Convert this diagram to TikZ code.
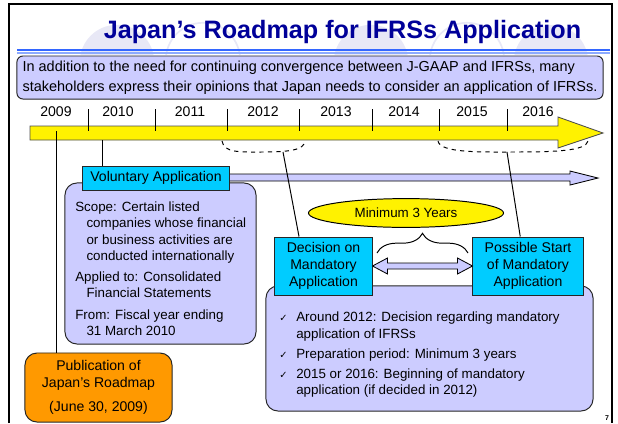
\documentclass[tikz,border=0pt]{standalone}
\usepackage{fontspec}
\setmainfont{Liberation Sans}
\newfontfamily\symfont{DejaVu Sans}
\usetikzlibrary{calc,shapes.geometric,decorations.pathreplacing}

\definecolor{navy}{RGB}{0,0,153}
\definecolor{lav}{RGB}{204,204,255}
\definecolor{skycyan}{RGB}{0,204,255}
\definecolor{amber}{RGB}{255,153,0}
\definecolor{ruleblue}{RGB}{51,102,255}
\definecolor{rulelight}{RGB}{140,170,255}
\definecolor{faint}{RGB}{232,232,246}

\begin{document}
\begin{tikzpicture}[x=0.025cm, y=-0.025cm,
    txt/.style={font=\fontsize{10}{12}\selectfont},
    small/.style={font=\fontsize{9.5}{11.4}\selectfont},
    cbox/.style={txt, draw=black!85, line width=0.7pt, fill=skycyan, align=center, inner sep=0pt},
    lbox/.style={draw=black!85, line width=0.7pt, fill=lav, rounded corners=0.3cm, inner sep=0pt},
    tick/.style={line width=0.6pt}]
  \useasboundingbox (0,0) rectangle (618,423);

  % faint circles behind the heading
  \begin{scope}
    \clip (11,6) rectangle (610,54);
    \foreach \cx in {117,371,551}
      \fill[faint] (\cx,62) circle (0.93cm);
    \foreach \cx in {203,467}
      \draw[faint, line width=1.2pt] (\cx,60) circle (0.93cm);
  \end{scope}

  \node[font=\fontsize{17.9}{21}\selectfont\bfseries, text=navy] (title) at (342.5,32) {Japan's Roadmap for IFRSs Application};
  \draw[ruleblue, line width=1.2pt] (17,50) -- (610,50);
  \draw[rulelight, line width=0.8pt] (17,53) -- (610,53);

  \node[draw=black!85, line width=0.7pt, fill=lav, rounded corners=0.15cm, minimum width=14.65cm, minimum height=1.075cm,
        align=left, font=\fontsize{10.3}{14.2}\selectfont] (intro) at (310,77.5)
    {In addition to the need for continuing convergence between J-GAAP and IFRSs, many\\
     stakeholders express their opinions that Japan needs to consider an application of IFRSs.};

  % time line
  \filldraw[fill=yellow, draw=black!70, line width=0.6pt] (30,126) -- (558,126) -- (558,117) -- (603,133)
    -- (558,148) -- (558,140) -- (30,140) -- cycle;
  \foreach \x/\yr in {56/2009,118/2010,190/2011,263/2012,336/2013,404/2014,472/2015,538/2016}
    \node[txt] (y\yr) at (\x,112) {\yr};
  \foreach \x in {88,155,227,299,372,439,507}
    \draw[tick] (\x,109) -- (\x,131);

  \draw[dashed, line width=0.7pt] (222,141) .. controls (224,153) and (240,152) .. (262,152)
    .. controls (290,152) and (304,150) .. (305,141);
  \draw[dashed, line width=0.7pt] (438,141) .. controls (440,153) and (480,152) .. (513,152)
    .. controls (555,152) and (586,151) .. (588,141);
  \coordinate (decmark) at (283,152);
  \coordinate (startmark) at (507,152);
  \coordinate (volmark) at (102,140);
  \coordinate (pubmark) at (56,131);

  % voluntary application
  \filldraw[fill=lav, draw=black, line width=0.6pt] (229,174) -- (570,174) -- (570,171) -- (598,178)
    -- (570,185) -- (570,181) -- (229,181) -- cycle;
  \node[lbox, minimum width=4.775cm, minimum height=4.025cm] (volbox) at (160.5,263.5) {};
  \node[small, anchor=north west, align=left, inner sep=0pt] (volnote) at (75,202)
    {Scope: Certain listed\\
     \hspace*{8pt}companies whose financial\\
     \hspace*{8pt}or business activities are\\
     \hspace*{8pt}conducted internationally\\[4pt]
     Applied to: Consolidated\\
     \hspace*{8pt}Financial Statements\\[4pt]
     From: Fiscal year ending\\
     \hspace*{8pt}31 March 2010};
  \node[cbox, minimum width=3.65cm, minimum height=0.6cm] (vol) at (156,178) {Voluntary Application};
  \draw[line width=0.7pt] (volmark) -- (volmark |- vol.north);

  \node[txt, draw=black!85, line width=0.7pt, fill=amber, rounded corners=0.3cm, minimum width=3.675cm,
        minimum height=1.725cm, align=center] (pub) at (98.5,387.5)
    {Publication of\\Japan's Roadmap\\[5pt](June 30, 2009)};
  \draw[line width=0.7pt] (pubmark) -- (pubmark |- pub.north);

  % mandatory application
  \node[lbox, minimum width=8.175cm, minimum height=3.125cm] (mandbox) at (429.5,348.5) {};
  \node[small, anchor=north west, align=left, inner sep=0pt] (mandnote) at (279,312)
    {\makebox[0.425cm][l]{\symfont\fontsize{7}{8}\selectfont ✓}Around 2012: Decision regarding mandatory\\
     \hspace*{0.425cm}application of IFRSs\\[3pt]
     \makebox[0.425cm][l]{\symfont\fontsize{7}{8}\selectfont ✓}Preparation period: Minimum 3 years\\[3pt]
     \makebox[0.425cm][l]{\symfont\fontsize{7}{8}\selectfont ✓}2015 or 2016: Beginning of mandatory\\
     \hspace*{0.425cm}application (if decided in 2012)};
  \node[cbox, minimum width=2.425cm, minimum height=1.45cm, font=\fontsize{10}{12.1}\selectfont] (dec) at (323.5,266)
    {Decision on\\Mandatory\\Application};
  \node[cbox, minimum width=2.75cm, minimum height=1.45cm, font=\fontsize{10}{12.1}\selectfont] (start) at (528,266)
    {Possible Start\\of Mandatory\\Application};
  \draw[line width=0.7pt] (decmark) -- ($(dec.north west)!0.25!(dec.north east)$);
  \draw[line width=0.7pt] (startmark) -- ($(start.north west)!0.43!(start.north east)$);

  \node[small, ellipse, draw=black, line width=0.7pt, fill=yellow, minimum width=4.875cm, minimum height=0.72cm,
        inner sep=0pt] (minyears) at (406,213) {Minimum 3 Years};
  \draw[decorate, decoration={brace, amplitude=14pt}, line width=0.7pt] (377,253) -- (468,253);
  \filldraw[fill=lav, draw=black, line width=0.6pt] (dec.east) -- ++(15,-8) -- ++(0,5)
    -- ($(start.west)+(-15,-3)$) -- ++(0,-5) -- (start.west) -- ++(-15,8) -- ++(0,-5)
    -- ($(dec.east)+(15,3)$) -- ++(0,5) -- cycle;

  \node[font=\fontsize{5}{6}\selectfont\bfseries] (pagenum) at (607,418) {7};
  \draw[line width=1.5pt] (9,423) -- (9,4) -- (612,4) -- (612,423);
\end{tikzpicture}
\end{document}
